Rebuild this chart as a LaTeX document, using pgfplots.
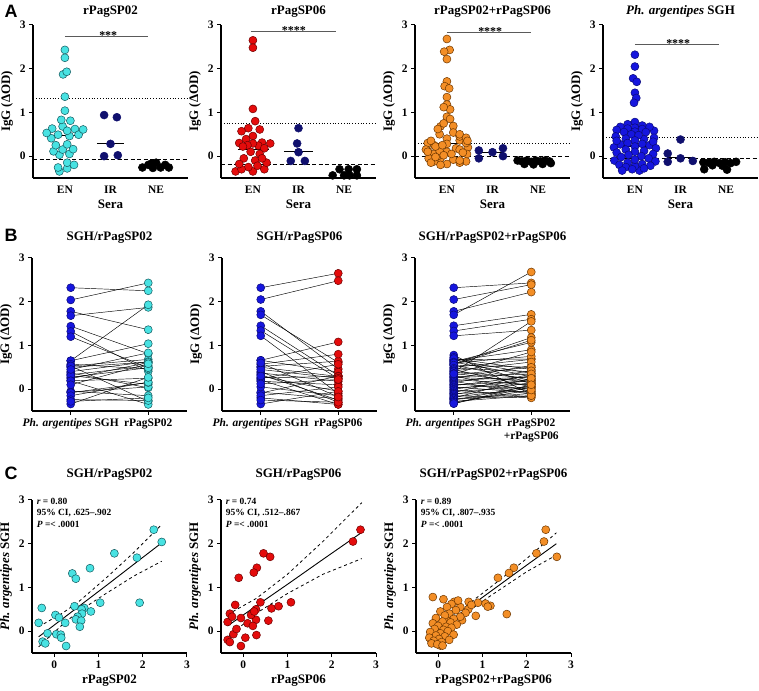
\documentclass[border=0pt]{standalone}
\usepackage{fontspec}
\setmainfont{Liberation Serif}
\newfontfamily\arialf{Liberation Sans}
\usepackage{pgfplots}
\pgfplotsset{compat=1.18}
\usepackage{pgfplotstable}

\definecolor{cyanF}{RGB}{72,226,226}
\definecolor{cyanE}{RGB}{20,90,95}
\definecolor{redF}{RGB}{228,12,12}
\definecolor{redE}{RGB}{110,0,0}
\definecolor{orF}{RGB}{243,142,38}
\definecolor{orE}{RGB}{110,55,0}
\definecolor{bluF}{RGB}{22,22,222}
\definecolor{bluE}{RGB}{10,10,120}
\definecolor{navy}{RGB}{16,16,110}
\definecolor{sig}{RGB}{90,90,90}

% SGH vs rPagSP02 (s = SGH, p = rPagSP02, j = swarm offset)
\pgfplotstableread{
s p j
2.32 2.25 0
2.04 2.43 0
1.78 1.36 0
1.68 1.87 -0.04
1.44 0.81 0.12
1.32 0.41 -0.30
1.20 0.49 -0.15
0.65 1.04 0
0.65 1.93 0.04
0.57 0.46 0.10
0.53 0.68 -0.05
0.50 0.62 0.22
0.40 0.63 -0.28
0.33 0.53 -0.40
0.27 0.49 0.30
0.24 0.61 0.40
0.53 -0.28 0.05
0.37 0.03 -0.12
0.31 0.11 -0.25
0.19 -0.35 -0.12
0.19 0.25 -0.20
-0.05 -0.15 0.05
-0.07 0.05 0.10
-0.08 0.15 -0.05
-0.15 0.16 0.18
-0.24 -0.26 -0.15
-0.34 0.27 0.05
0.10 0.58 0.05
0.45 0.83 -0.08
-0.28 -0.20 0.20
}\tOne

% SGH vs rPagSP06
\pgfplotstableread{
s p j
2.32 2.65 0
2.05 2.48 0
1.78 0.46 0
1.70 0.61 0.15
1.45 0.31 0.20
1.34 0.24 0.12
1.22 -0.10 0.05
0.66 0.39 -0.15
0.52 0.64 -0.10
0.57 0.80 0.05
0.66 1.08 0
0.24 0.57 -0.25
-0.09 0.30 -0.30
0.50 0.29 0
0.26 0.29 0.38
0.21 -0.35 0
0.40 -0.30 0.25
-0.20 -0.35 -0.38
-0.34 -0.05 -0.20
0.37 0.18 0.25
0.33 -0.25 -0.10
0.18 0.10 -0.05
-0.07 -0.22 0.10
0.05 -0.15 0.30
-0.15 0.05 0.15
0.45 0.25 -0.12
0.30 -0.05 0.20
-0.25 -0.30 -0.25
0.12 0.22 -0.22
0.60 -0.18 -0.30
}\tTwo

% SGH vs rPagSP02+rPagSP06 (s, c, swarm offsets js, jc)
\pgfplotstableread{
s c js jc
2.32 2.43 0 0.06
2.05 2.39 0 -0.06
1.78 2.22 -0.04 0
1.70 2.68 0.04 0
1.45 1.71 0 0
1.33 1.60 0.03 -0.05
1.22 1.35 -0.02 0
0.39 1.55 0.20 0.05
0.58 1.18 0.42 0
0.78 -0.12 0 0.42
0.73 0.12 -0.16 -0.42
0.67 0.36 -0.32 0.28
0.67 0.69 0.32 0.14
0.65 0.90 0 0
0.63 1.07 -0.16 0.07
0.56 1.12 0 -0.07
0.55 0.50 -0.24 -0.16
0.50 0.68 -0.08 -0.14
0.27 0.20 -0.32 0.46
0.25 0.54 0.32 0.14
-0.33 0.05 0.10 -0.28
-0.23 -0.15 0 0.28
0.70 0.45 0.16 0.28
0.62 0.30 0.16 -0.42
0.60 0.75 -0.40 -0.07
0.55 0.20 0.24 -0.16
0.48 0.40 0.08 0.00
0.45 0.05 -0.42 0.44
0.42 0.62 0.42 -0.20
0.40 0.25 -0.20 -0.28
0.36 0.15 0 -0.46
0.33 0.50 0.40 0.28
0.30 -0.05 -0.16 -0.14
0.28 0.35 0.16 -0.35
0.22 0.10 0 0.00
0.20 0.28 -0.46 0.00
0.18 -0.12 0.46 -0.28
0.15 0.42 -0.20 0.42
0.12 0.00 0.20 -0.20
0.10 0.18 0 0.20
0.08 0.30 -0.40 0.42
0.05 -0.08 0.40 0.14
0.03 0.12 -0.14 -0.16
0.00 0.22 0.14 -0.25
-0.02 -0.18 -0.30 0.00
-0.05 0.05 0.30 0.10
-0.08 0.35 0 0.45
-0.10 -0.05 -0.45 -0.40
-0.12 0.15 0.45 0.28
-0.15 -0.20 -0.16 -0.14
-0.18 0.02 0.16 -0.07
-0.20 0.25 -0.34 -0.10
-0.22 -0.10 0.34 0.28
-0.25 0.08 -0.20 0.35
-0.28 -0.15 0.20 -0.35
-0.30 -0.02 -0.06 -0.25
-0.33 0.10 -0.28 -0.42
0.35 0.85 -0.40 0.07
}\tThree

\pgfplotsset{
  panel/.style={scale only axis, width=155bp, height=153bp,
    ymin=-0.5, ymax=3, ytick={0,1,2,3},
    axis x line*=bottom, axis y line*=left,
    axis line style={-, line width=1.1bp},
    tick style={line width=1bp, black}, tick align=outside, major tick length=4bp,
    ticklabel style={font=\fontsize{11.5}{13}\selectfont\bfseries},
    /pgf/number format/assume math mode=true,
    label style={font=\fontsize{13}{14}\selectfont\bfseries},
    title style={font=\fontsize{13}{14}\selectfont\bfseries, at={(0.5,1)}, anchor=base},
    clip=false, ylabel={IgG (ΔOD)}},
  apanel/.style={panel, xmin=-0.7, xmax=2.7, xtick={0,1,2}, xticklabels={EN,IR,NE},
    xtick style={draw=none}, xlabel={Sera}, title style={yshift=5bp}},
  bpanel/.style={panel, xmin=-0.5, xmax=1.5, xtick={0,1}, title style={yshift=12bp}},
  cpanel/.style={panel, xmin=-0.5, xmax=3, xtick={0,1,2,3}, title style={yshift=17bp},
    ylabel={\textit{Ph. argentipes} SGH}},
  mk/.style 2 args={only marks, mark=*, mark size=4.0bp,
    mark options={fill=#1, draw=#2, line width=0.5bp}},
  med/.style={black, line width=1.2bp},
  dotl/.style={black, line width=0.8bp, dotted},
  dashl/.style={black, line width=1.1bp, dash pattern=on 4bp off 2.5bp},
  sigl/.style={sig, line width=0.9bp},
  pair/.style={black, line width=0.45bp},
}
\newcommand{\stars}[1]{{\fontsize{12}{12}\selectfont\bfseries #1}}
\newcommand{\stat}{\fontsize{9.5}{10}\selectfont\bfseries}

\begin{document}
\begin{tikzpicture}
\useasboundingbox (0,0) rectangle (759bp,691bp);

\node[font=\arialf\bfseries\fontsize{18}{18}\selectfont, anchor=west] at (1bp,680bp) {A};
\node[font=\arialf\bfseries\fontsize{18}{18}\selectfont, anchor=west] at (1bp,456bp) {B};
\node[font=\arialf\bfseries\fontsize{18}{18}\selectfont, anchor=west] at (1bp,218bp) {C};

% ---------------- Row A ----------------
\begin{axis}[apanel, at={(33bp,513bp)}, anchor=south west, title={rPagSP02}]
\addplot[mk={cyanF}{cyanE}] table[x=j, y=p] {\tOne};
\addplot[mk={navy}{navy}] coordinates {(0.86,0.94) (1.14,0.89) (1,0.28) (0.86,0.0) (1.16,0.02)};
\addplot[mk={black}{black}] coordinates {(1.70,-0.26) (1.83,-0.20) (1.93,-0.27) (2.00,-0.15) (2.10,-0.26) (2.20,-0.20) (2.28,-0.26) (1.90,-0.17)};
\addplot[dotl] coordinates {(-0.7,1.32) (2.7,1.32)};
\addplot[dashl] coordinates {(-0.7,-0.08) (2.7,-0.08)};
\addplot[med] coordinates {(-0.33,0.48) (0.36,0.48)};
\addplot[med] coordinates {(0.7,0.28) (1.3,0.28)};
\addplot[med] coordinates {(1.7,-0.22) (2.3,-0.22)};
\addplot[sigl] coordinates {(0,2.73) (1.83,2.73)};
\node[anchor=base] at (axis cs:0.95,2.66) {\stars{***}};
\end{axis}

\begin{axis}[apanel, at={(221bp,513bp)}, anchor=south west, title={rPagSP06}]
\addplot[mk={redF}{redE}] table[x=j, y=p] {\tTwo};
\addplot[mk={navy}{navy}] coordinates {(1,0.64) (0.97,0.29) (1,0.09) (0.83,-0.11) (1.14,-0.11)};
\addplot[mk={black}{black}] coordinates {(1.75,-0.44) (1.90,-0.30) (2.00,-0.44) (2.12,-0.44) (2.10,-0.30) (2.28,-0.30) (2.28,-0.44)};
\addplot[dotl] coordinates {(-0.7,0.74) (2.7,0.74)};
\addplot[dashl] coordinates {(-0.7,-0.19) (2.7,-0.19)};
\addplot[med] coordinates {(-0.33,0.15) (0.36,0.15)};
\addplot[med] coordinates {(0.68,0.10) (1.32,0.10)};
\addplot[sigl] coordinates {(-0.05,2.86) (1.82,2.86)};
\node[anchor=base] at (axis cs:0.9,2.79) {\stars{****}};
\end{axis}

\begin{axis}[apanel, at={(415bp,513bp)}, anchor=south west, title={rPagSP02+rPagSP06}]
\addplot[mk={orF}{orE}] table[x=jc, y=c] {\tThree};
\addplot[mk={navy}{navy}] coordinates {(0.70,0.13) (0.70,-0.05) (1,0.09) (1.23,0.18) (1.23,0.0)};
\addplot[mk={black}{black}] coordinates {(1.55,-0.10) (1.65,-0.12) (1.75,-0.10) (1.85,-0.13) (1.95,-0.10) (2.05,-0.12) (2.15,-0.10) (2.25,-0.12) (1.70,-0.18) (1.90,-0.19) (2.10,-0.18) (2.28,-0.16)};
\addplot[dotl] coordinates {(-0.7,0.30) (2.7,0.30)};
\addplot[dashl] coordinates {(-0.7,0.0) (2.7,0.0)};
\addplot[med] coordinates {(-0.36,0.28) (0.4,0.28)};
\addplot[med] coordinates {(0.70,0.09) (1.25,0.09)};
\addplot[sigl] coordinates {(0,2.82) (1.85,2.82)};
\node[anchor=base] at (axis cs:0.95,2.75) {\stars{****}};
\end{axis}

\begin{axis}[apanel, at={(603bp,513bp)}, anchor=south west, title={\textit{Ph. argentipes} SGH}]
\addplot[mk={bluF}{bluE}] table[x=js, y=s] {\tThree};
\addplot[mk={navy}{navy}] coordinates {(0.72,0.06) (1,0.38) (0.72,-0.13) (1,-0.05) (1.27,-0.11)};
\addplot[mk={black}{black}] coordinates {(1.50,-0.14) (1.62,-0.15) (1.74,-0.13) (1.86,-0.16) (1.98,-0.14) (2.10,-0.16) (2.22,-0.13) (1.52,-0.30) (2.02,-0.31) (1.70,-0.21) (1.92,-0.22)};
\addplot[dotl] coordinates {(-0.7,0.42) (2.7,0.42)};
\addplot[dashl] coordinates {(-0.7,-0.05) (2.7,-0.05)};
\addplot[med] coordinates {(-0.36,0.23) (0.4,0.23)};
\addplot[med] coordinates {(0.70,-0.03) (1.30,-0.03)};
\addplot[sigl] coordinates {(0,2.56) (1.85,2.56)};
\node[anchor=base] at (axis cs:0.95,2.49) {\stars{****}};
\end{axis}

% ---------------- Row B ----------------
\begin{axis}[bpanel, at={(32bp,280bp)}, anchor=south west, title={SGH/rPagSP02},
  xticklabels={\textit{Ph. argentipes} SGH, rPagSP02}]
\addplot[pair, quiver={u=1, v=\thisrow{p}-\thisrow{s}}] table[x expr=0, y=s] {\tOne};
\addplot[mk={bluF}{bluE}] table[x expr=0, y=s] {\tOne};
\addplot[mk={cyanF}{cyanE}] table[x expr=1, y=p] {\tOne};
\end{axis}

\begin{axis}[bpanel, at={(222bp,280bp)}, anchor=south west, title={SGH/rPagSP06},
  xticklabels={\textit{Ph. argentipes} SGH, rPagSP06}]
\addplot[pair, quiver={u=1, v=\thisrow{p}-\thisrow{s}}] table[x expr=0, y=s] {\tTwo};
\addplot[mk={bluF}{bluE}] table[x expr=0, y=s] {\tTwo};
\addplot[mk={redF}{redE}] table[x expr=1, y=p] {\tTwo};
\end{axis}

\begin{axis}[bpanel, at={(415bp,280bp)}, anchor=south west, title={SGH/rPagSP02+rPagSP06},
  xticklabels={\textit{Ph. argentipes} SGH, {rPagSP02\\+rPagSP06}},
  xticklabel style={align=center}]
\addplot[pair, quiver={u=1, v=\thisrow{c}-\thisrow{s}}] table[x expr=0, y=s] {\tThree};
\addplot[mk={bluF}{bluE}] table[x expr=0, y=s] {\tThree};
\addplot[mk={orF}{orE}] table[x expr=1, y=c] {\tThree};
\end{axis}

% ---------------- Row C ----------------
\begin{axis}[cpanel, at={(32bp,38bp)}, anchor=south west, title={SGH/rPagSP02}, xlabel={rPagSP02}]
\addplot[black, line width=0.9bp] coordinates {(-0.35,-0.13) (0.2,0.29) (0.55,0.56) (1.2,1.06) (1.8,1.53) (2.43,2.02)};
\addplot[black, line width=0.8bp, dashed] coordinates {(-0.35,0.10) (0.2,0.42) (0.55,0.67) (1.2,1.24) (1.8,1.80) (2.43,2.44)};
\addplot[black, line width=0.8bp, dashed] coordinates {(-0.35,-0.36) (0.2,0.16) (0.55,0.45) (1.2,0.88) (1.8,1.26) (2.43,1.60)};
\addplot[mk={cyanF}{cyanE}] table[x=p, y=s] {\tOne};
\node[anchor=west, font=\stat] at (axis cs:-0.47,2.97) {\textit{r} = 0.80};
\node[anchor=west, font=\stat] at (axis cs:-0.47,2.71) {95\% CI, .625--.902};
\node[anchor=west, font=\stat] at (axis cs:-0.47,2.45) {\textit{P} =< .0001};
\end{axis}

\begin{axis}[cpanel, at={(221bp,38bp)}, anchor=south west, title={SGH/rPagSP06}, xlabel={rPagSP06}]
\addplot[black, line width=0.9bp] coordinates {(-0.35,0.12) (0.3,0.58) (1.0,1.07) (1.8,1.64) (2.68,2.26)};
\addplot[black, line width=0.8bp, dashed] coordinates {(-0.35,0.38) (0.3,0.75) (1.0,1.30) (1.8,2.05) (2.68,2.94)};
\addplot[black, line width=0.8bp, dashed] coordinates {(-0.35,-0.14) (0.3,0.41) (1.0,0.86) (1.8,1.30) (2.68,1.66)};
\addplot[mk={redF}{redE}] table[x=p, y=s] {\tTwo};
\node[anchor=west, font=\stat] at (axis cs:-0.47,2.97) {\textit{r} = 0.74};
\node[anchor=west, font=\stat] at (axis cs:-0.47,2.71) {95\% CI, .512--.867};
\node[anchor=west, font=\stat] at (axis cs:-0.47,2.45) {\textit{P} =< .0001};
\end{axis}

\begin{axis}[cpanel, at={(416bp,38bp)}, anchor=south west, title={SGH/rPagSP02+rPagSP06}, xlabel={rPagSP02+rPagSP06}]
\addplot[black, line width=0.9bp] coordinates {(-0.15,-0.08) (0.4,0.33) (1.2,0.92) (2.0,1.51) (2.67,2.00)};
\addplot[black, line width=0.8bp, dashed] coordinates {(-0.15,0.06) (0.4,0.40) (1.2,1.02) (2.0,1.66) (2.67,2.25)};
\addplot[black, line width=0.8bp, dashed] coordinates {(-0.15,-0.22) (0.4,0.26) (1.2,0.82) (2.0,1.36) (2.67,1.74)};
\addplot[mk={orF}{orE}] table[x=c, y=s] {\tThree};
\node[anchor=west, font=\stat] at (axis cs:-0.47,2.97) {\textit{r} = 0.89};
\node[anchor=west, font=\stat] at (axis cs:-0.47,2.71) {95\% CI, .807--.935};
\node[anchor=west, font=\stat] at (axis cs:-0.47,2.45) {\textit{P} =< .0001};
\end{axis}

\end{tikzpicture}
\end{document}
